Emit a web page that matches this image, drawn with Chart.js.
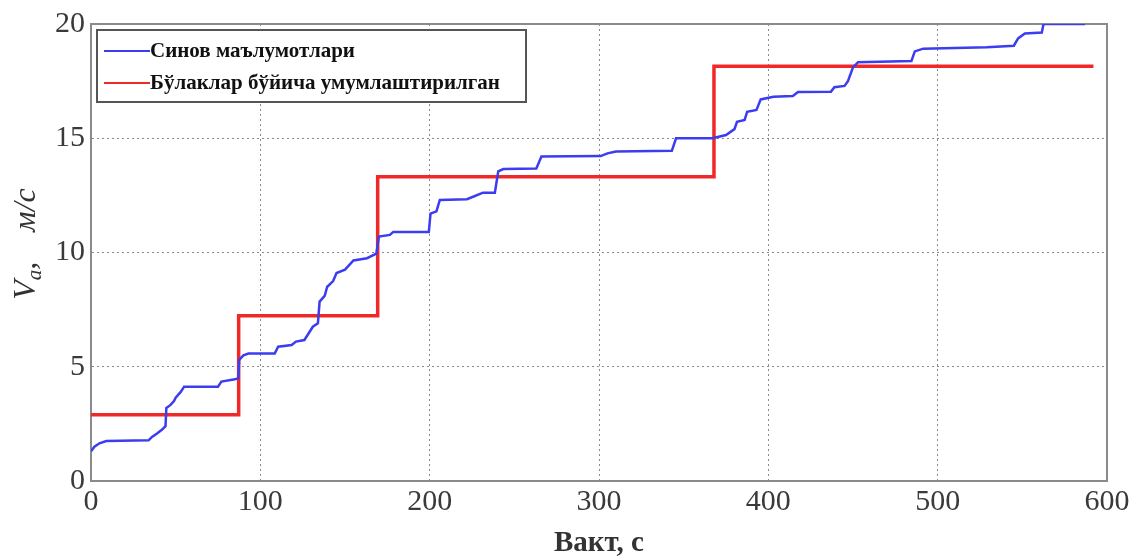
<!DOCTYPE html>
<html>
<head>
<meta charset="utf-8">
<script src="https://cdn.jsdelivr.net/npm/chart.js@4.4.1/dist/chart.umd.min.js"></script>
<style>
    body { margin: 0; background: #fff; }
    canvas { display: block; }
</style>
</head>
<body>
<canvas id="canvas-speed" width="1137" height="558"></canvas>
<script>
// test data (blue)
const blueTimes = [0, 2, 5, 9, 34, 36, 39, 42, 44, 44.5, 47, 49, 50, 53, 55, 75, 77, 85, 87, 87.5,
    90, 93, 108.5, 110.5, 118.5, 121, 126, 128, 131, 134, 135, 138, 139.5, 143, 145, 150, 155, 163,
    168.5, 170, 176.5, 178.5, 199.5, 200.5, 204, 206, 222, 226, 231.5, 238.5, 240.5, 243.5, 263, 266,
    301, 305, 310, 343, 345.5, 367, 375, 380, 381.5, 386, 387.5, 393, 395.5, 403, 414.5, 417.5, 437,
    439, 445, 447, 450, 453, 484.5, 486.5, 491.5, 529, 545, 547.5, 551.5, 561.5, 562.5, 587];
const blueSpeeds = [1.3, 1.5, 1.65, 1.75, 1.78, 1.93, 2.08, 2.25, 2.4, 3.2, 3.33, 3.5, 3.65, 3.9, 4.13, 4.13, 4.35, 4.45, 4.5, 5.3,
    5.5, 5.58, 5.58, 5.88, 5.95, 6.1, 6.17, 6.4, 6.75, 6.9, 7.85, 8.1, 8.5, 8.75, 9.1, 9.25, 9.65, 9.75,
    9.95, 10.7, 10.77, 10.9, 10.9, 11.7, 11.8, 12.3, 12.33, 12.45, 12.62, 12.62, 13.55, 13.65, 13.68, 14.2,
    14.22, 14.34, 14.42, 14.45, 15.0, 15.0, 15.14, 15.4, 15.72, 15.8, 16.16, 16.24, 16.7, 16.82, 16.85, 17.02, 17.04,
    17.23, 17.29, 17.5, 18.1, 18.33, 18.38, 18.8, 18.92, 18.98, 19.05, 19.37, 19.58, 19.63, 20.0, 20.0];

// piecewise generalized (red), step points
const redTimes = [0, 87.2, 169.3, 367.9, 592];
const redSpeeds = [2.9, 7.23, 13.32, 18.15, 18.15];

const xTicks = [0, 100, 200, 300, 400, 500, 600];
const yTicks = [0, 5, 10, 15, 20];

const labels = ["Синов маълумотлари", "Бўлаклар бўйича умумлаштирилган"];
const xTitle = "Вакт, с";

const serif = "'Liberation Serif', 'Times New Roman', serif";

function toPoints(xs, ys)
{
    return xs.map((x, i) => ({ x: x, y: ys[i] }));
}

// frame round the plot area, drawn under the lines
const boxPlugin = {
    id: 'box',
    beforeDatasetsDraw(chart)
    {
        const a = chart.chartArea;
        const ctx = chart.ctx;
        ctx.save();
        ctx.strokeStyle = '#8a8a8a';
        ctx.lineWidth = 2;
        ctx.strokeRect(a.left, a.top, a.right - a.left, a.bottom - a.top);
        ctx.restore();
    }
};

// legend box in the upper left corner
const legendPlugin = {
    id: 'boxLegend',
    afterDatasetsDraw(chart)
    {
        const ctx = chart.ctx;
        const left = 97, top = 30, right = 526, bottom = 102;
        ctx.save();
        ctx.fillStyle = '#fff';
        ctx.fillRect(left, top, right - left, bottom - top);
        ctx.strokeStyle = '#555';
        ctx.lineWidth = 2;
        ctx.strokeRect(left, top, right - left, bottom - top);

        const rows = [51, 83];
        chart.data.datasets.forEach((ds, i) => {
            const y = rows[i];
            ctx.strokeStyle = ds.borderColor;
            ctx.lineWidth = 2;
            ctx.beginPath();
            ctx.moveTo(104, y);
            ctx.lineTo(150, y);
            ctx.stroke();
            ctx.fillStyle = '#111';
            ctx.font = "bold 21px " + serif;
            ctx.textBaseline = 'middle';
            ctx.fillText(labels[i], 150, y + 1);
        });
        ctx.restore();
    }
};

// rotated y title: V_a,  м/с
const yTitlePlugin = {
    id: 'yTitle',
    afterDraw(chart)
    {
        const ctx = chart.ctx;
        const big = "italic 32px " + serif;
        const small = "italic 21px " + serif;
        ctx.save();
        ctx.fillStyle = '#333';
        ctx.textBaseline = 'alphabetic';
        ctx.font = big;
        const wV = ctx.measureText("V").width;
        const wC = ctx.measureText(",").width;
        const wM = ctx.measureText("м/с").width;
        ctx.font = small;
        const wA = ctx.measureText("a").width;
        const gap = 30;
        const total = wV + wA + wC + gap + wM;

        ctx.translate(35, 244);
        ctx.rotate(-Math.PI / 2);
        let x = -total / 2;
        ctx.font = big;
        ctx.fillText("V", x, 0);
        x += wV;
        ctx.font = small;
        ctx.fillText("a", x, 6);
        x += wA;
        ctx.font = big;
        ctx.fillText(",", x, 0);
        x += wC + gap;
        ctx.fillText("м/с", x, 0);
        ctx.restore();
    }
};

const tickFont = { family: serif, size: 30 };

new Chart(document.getElementById('canvas-speed'), {
    type: 'line',
    data: {
        datasets: [{
            label: labels[0],
            data: toPoints(blueTimes, blueSpeeds),
            borderColor: 'rgb(60, 60, 240)',
            borderWidth: 2.5,
            pointRadius: 0,
            fill: false,
            tension: 0,
            order: 1
        }, {
            label: labels[1],
            data: toPoints(redTimes, redSpeeds),
            borderColor: 'rgb(240, 40, 40)',
            borderWidth: 3.5,
            pointRadius: 0,
            fill: false,
            stepped: 'before',
            order: 2
        }]
    },
    options: {
        responsive: false,
        animation: false,
        layout: { padding: { top: 24, right: 30, left: 0, bottom: 0 } },
        plugins: {
            legend: { display: false },
            tooltip: { enabled: false }
        },
        scales: {
            x: {
                type: 'linear',
                min: 0,
                max: 600,
                afterBuildTicks: (s) => { s.ticks = xTicks.map((v) => ({ value: v })); },
                afterFit: (s) => { s.height = 77; },
                ticks: { font: tickFont, color: '#3a3a3a', padding: 3, maxRotation: 0 },
                grid: { color: '#8a8a8a', lineWidth: 1, drawTicks: false },
                border: { display: true, color: '#8a8a8a', width: 2, dash: [2, 3] },
                title: {
                    display: true,
                    text: xTitle,
                    color: '#333',
                    font: { family: serif, size: 29, weight: 'bold', lineHeight: 1 },
                    padding: { top: 0, bottom: 0 }
                }
            },
            y: {
                min: 0,
                max: 20,
                afterBuildTicks: (s) => { s.ticks = yTicks.map((v) => ({ value: v })); },
                afterFit: (s) => { s.width = 91; },
                ticks: { font: tickFont, color: '#3a3a3a', padding: 6 },
                grid: { color: '#8a8a8a', lineWidth: 1, drawTicks: false },
                border: { display: true, color: '#8a8a8a', width: 2, dash: [2, 3] }
            }
        }
    },
    plugins: [boxPlugin, legendPlugin, yTitlePlugin]
});
</script>
</body>
</html>
